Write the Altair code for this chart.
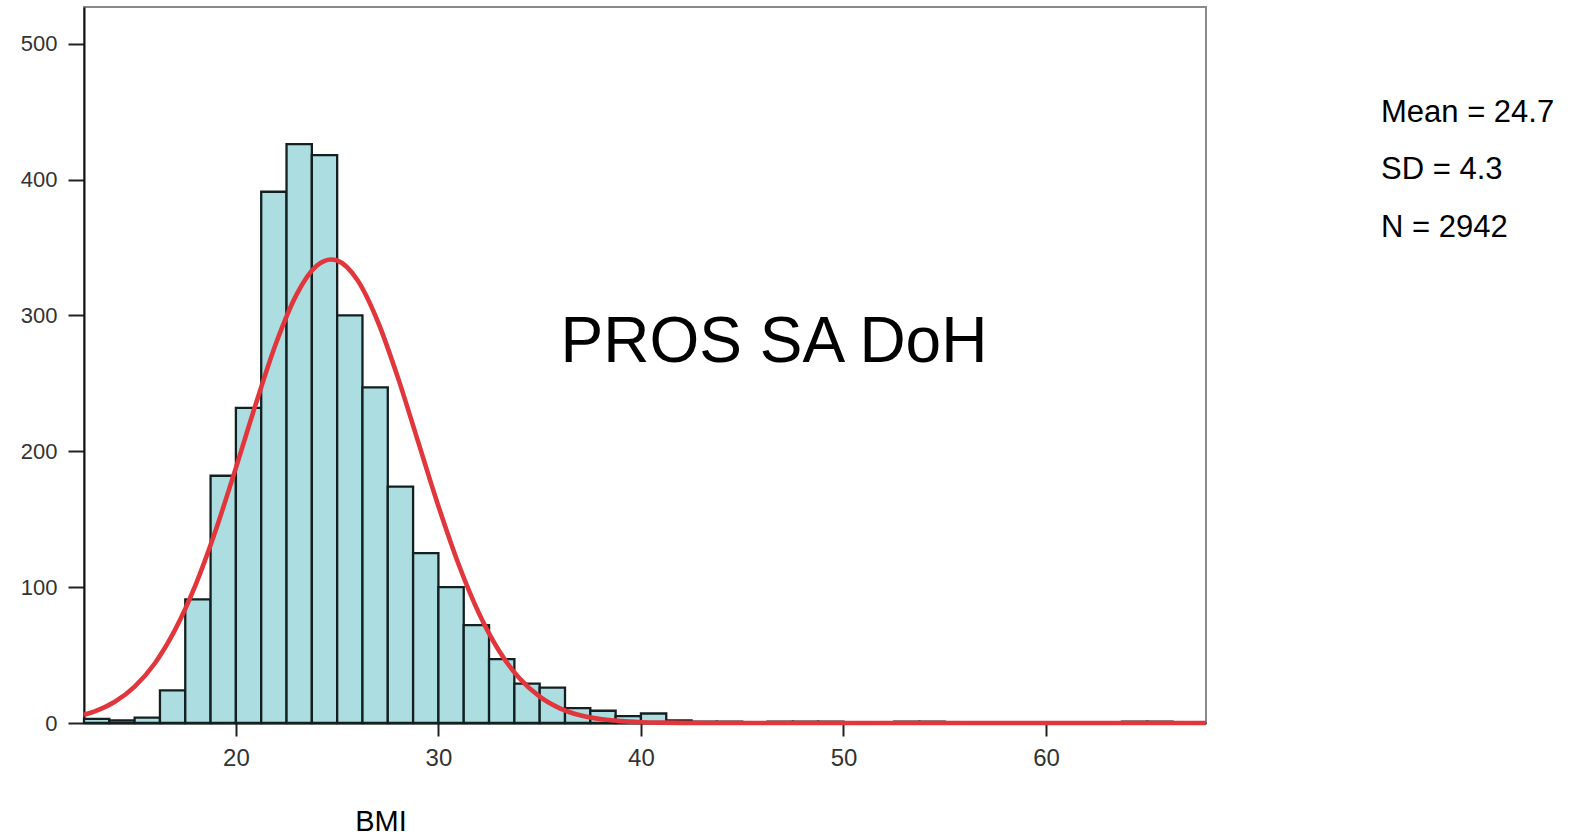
import altair as alt
import pandas as pd

# Histogram of BMI (bin width 1.25 starting at 12.5)
bin_start = 12.5
bin_width = 1.25
counts = [3, 2, 4, 24, 91, 182, 232, 391, 426, 418, 300, 247, 174, 125, 100,
          72, 47, 29, 26, 11, 9, 5, 7, 2, 1, 1, 0, 1, 1, 1, 0, 0, 1, 1,
          0, 0, 0, 0, 0, 0, 0, 1, 1, 0]

# Fitted normal curve
curve_x = [12.5, 13, 14, 15, 16, 17, 18, 19, 20, 21, 22, 23, 24, 24.7, 25, 26, 27,
           28, 29, 30, 31, 32, 33, 34, 35, 36, 37, 38, 39, 40, 41, 42, 45, 50, 55, 60, 67.9]
curve_y = [6.1, 8.4, 15.4, 26.8, 44.0, 68.7, 101.3, 141.7, 187.8, 235.6, 280.2, 315.5,
           336.7, 341.2, 340.4, 326.0, 295.7, 254.2, 206.9, 159.6, 116.7, 80.8, 53.0,
           32.9, 19.4, 10.8, 5.7, 2.9, 1.4, 0.6, 0.25, 0.1, 0, 0, 0, 0, 0]

stats_lines = ["Mean = 24.7", "SD = 4.3", "N = 2942"]
title_text = "PROS SA DoH"
x_title = "BMI"
x_ticks = [20, 30, 40, 50, 60]
y_ticks = [0, 100, 200, 300, 400, 500]

rows = []
for i, c in enumerate(counts):
    if c > 0:
        s = bin_start + i * bin_width
        rows.append({"start": s, "end": s + bin_width, "count": c})
bars_df = pd.DataFrame(rows)
curve_df = pd.DataFrame({"x": curve_x, "y": curve_y})

xscale = alt.Scale(domain=[12.5, 67.9], nice=False, zero=False)
yscale = alt.Scale(domain=[0, 527], nice=False)
FONT = "Liberation Sans"

bars = alt.Chart(bars_df).mark_rect(
    fill="#ABDDE1", stroke="#142020", strokeWidth=2.3
).encode(
    x=alt.X("start:Q", scale=xscale,
            axis=alt.Axis(values=x_ticks, title=None, grid=False, tickSize=13, tickWidth=2,
                          tickColor="#222", domainColor="#111", domainWidth=2,
                          labelFontSize=24, labelFont=FONT, labelColor="#333",
                          labelPadding=10)),
    x2="end:Q",
    y=alt.Y("count:Q", scale=yscale,
            axis=alt.Axis(values=y_ticks, title=None, grid=False, tickSize=16, tickWidth=2,
                          tickColor="#222", domainColor="#111", domainWidth=2,
                          labelFontSize=22, labelFont=FONT, labelColor="#333",
                          labelPadding=11)),
    y2=alt.datum(0),
)

line = alt.Chart(curve_df).mark_line(
    color="#E0363C", strokeWidth=4.6, interpolate="monotone"
).encode(x=alt.X("x:Q", scale=xscale), y=alt.Y("y:Q", scale=yscale))

layers = [bars, line]

layers.append(alt.Chart(pd.DataFrame({"t": [title_text]})).mark_text(
    fontSize=64, font=FONT, color="#000", align="center", baseline="alphabetic"
).encode(text="t:N", x=alt.value(690), y=alt.value(354.7)))

layers.append(alt.Chart(pd.DataFrame({"t": [x_title]})).mark_text(
    fontSize=29, font=FONT, color="#000", align="center", baseline="alphabetic"
).encode(text="t:N", x=alt.value(297), y=alt.value(824)))

for k, s in enumerate(stats_lines):
    layers.append(alt.Chart(pd.DataFrame({"t": [s]})).mark_text(
        fontSize=31, font=FONT, color="#000", align="left", baseline="alphabetic"
    ).encode(text="t:N", x=alt.value(1297), y=alt.value(114.7 + 57.5 * k)))

chart = alt.layer(*layers).properties(
    width=1122, height=716,
    autosize=alt.AutoSizeParams(type="none"),
    padding={"left": 84, "top": 7, "right": 367, "bottom": 114},
    background="white",
).configure_view(stroke="#8a8a8a", strokeWidth=2)

chart.save("out.html", embed_options={"renderer": "svg", "actions": False})
